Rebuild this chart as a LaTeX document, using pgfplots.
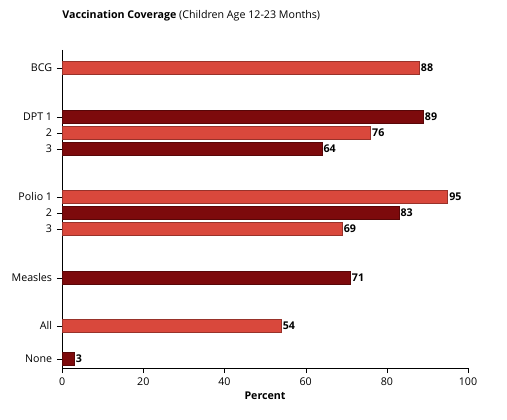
\documentclass[border=0pt]{standalone}
\usepackage{fontspec}
\setmainfont{Open Sans}
\usepackage{pgfplots}
\pgfplotsset{compat=1.18}
\definecolor{lr}{RGB}{217,72,60}
\definecolor{dr}{RGB}{125,10,12}
\begin{document}
\begin{tikzpicture}
\begin{axis}[
  scale only axis, width=304.5pt, height=238.5pt,
  xmin=0, xmax=100, ymin=50, ymax=368, y dir=reverse,
  axis x line*=bottom, axis y line*=left,
  xtick={0,20,...,100},
  ytick={68,117,133,149,197,213,229,278,326,359},
  yticklabels={BCG,DPT 1,2,3,Polio 1,2,3,Measles,All,None},
  tick style={black}, major tick length=4pt,
  xtick align=outside, ytick align=outside,
  tick label style={font=\footnotesize},
  /pgf/number format/assume math mode=true,
  xlabel={\textbf{Percent}}, xlabel style={font=\footnotesize, yshift=2pt},
  xbar, bar width=13, bar shift=0pt,
  nodes near coords, nodes near coords style={font=\footnotesize\bfseries, anchor=west, inner sep=1pt},
  clip=false,
]
\addplot[fill=lr, draw=lr!70!black] coordinates {(88,68) (76,133) (95,197) (69,229) (54,326)};
\addplot[fill=dr, draw=dr!70!black] coordinates {(89,117) (64,149) (83,213) (71,278) (3,359)};
\node[anchor=base west, font=\footnotesize, inner sep=0pt] at (rel axis cs:0,1.1) {\textbf{Vaccination Coverage} (Children Age 12-23 Months)};
\path (rel axis cs:-0.153,-0.164) rectangle (rel axis cs:1.096,1.157);
\end{axis}
\end{tikzpicture}
\end{document}
